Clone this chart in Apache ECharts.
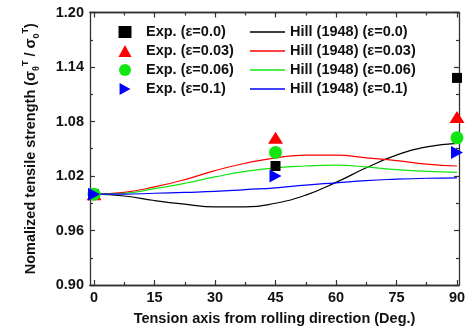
<!DOCTYPE html>
<html><head><meta charset="utf-8">
<script src="https://cdn.jsdelivr.net/npm/echarts@6/dist/echarts.min.js"></script>
<style>html,body{margin:0;padding:0;background:#fff}#c{width:472px;height:331px}</style>
</head><body><div id="c"></div>
<script>
// ---- data ----
var expAngles = [0, 45, 90];
var exp00 = [1.000, 1.031, 1.128];
var exp03 = [1.000, 1.062, 1.085];
var exp06 = [1.000, 1.046, 1.062];
var exp10 = [1.000, 1.020, 1.046];

var hillAngles = [0, 7.5, 15, 22.5, 30, 37.5, 45, 52.5, 60, 67.5, 75, 82.5, 90];
var hill00 = [1.000, 0.998, 0.993, 0.989, 0.986, 0.986, 0.990, 0.999, 1.013, 1.029, 1.043, 1.052, 1.056];
var hill03 = [1.000, 1.002, 1.008, 1.016, 1.026, 1.034, 1.040, 1.043, 1.043, 1.040, 1.037, 1.033, 1.031];
var hill06 = [1.000, 1.001, 1.006, 1.012, 1.019, 1.025, 1.029, 1.031, 1.032, 1.030, 1.027, 1.025, 1.024];
var hill10 = [1.000, 1.000, 1.001, 1.002, 1.003, 1.005, 1.007, 1.010, 1.0125, 1.015, 1.0165, 1.0175, 1.018];

var xMajorTicks = [0, 15, 30, 45, 60, 75, 90];
var xMinorTicks = [7.5, 22.5, 37.5, 52.5, 67.5, 82.5];

var expNames = ['Exp. (\u03b5=0.0)', 'Exp. (\u03b5=0.03)', 'Exp. (\u03b5=0.06)', 'Exp. (\u03b5=0.1)'];
var hillNames = ['Hill (1948) (\u03b5=0.0)', 'Hill (1948) (\u03b5=0.03)', 'Hill (1948) (\u03b5=0.06)', 'Hill (1948) (\u03b5=0.1)'];

function pairs(xs, ys) { return xs.map(function (x, i) { return [x, ys[i]]; }); }

var FONT = '"Liberation Sans", Arial, sans-serif';
var TXT = '#111';
var AX = '#333';
var GREEN = '#12e612';
var RIGHT_TRI = 'path://M0,0 L10,5.5 L0,11 Z';

var chart = echarts.init(document.getElementById('c'), null, {renderer: 'canvas'});

function xAx(pos, grid, ticks, len, labels, extra) {
  var o = {
    type: 'value', gridIndex: grid, position: pos, min: -1, max: 90.5,
    axisLine: {show: true, onZero: false, lineStyle: {color: AX, width: 1.3}},
    axisTick: {show: true, inside: true, length: len, customValues: ticks, lineStyle: {color: AX, width: 1.2}},
    axisLabel: {show: labels, customValues: ticks, margin: 5, fontFamily: FONT, fontWeight: 'bold', fontSize: 14.5, color: TXT},
    splitLine: {show: false}
  };
  if (extra) for (var k in extra) o[k] = extra[k];
  return o;
}
function yAx(pos, grid, labels, show) {
  return {
    type: 'value', gridIndex: grid, position: pos, min: 0.9, max: 1.2, interval: 0.06, show: show,
    axisLine: {show: true, onZero: false, lineStyle: {color: AX, width: 1.3}},
    axisTick: {show: true, inside: true, length: 5, lineStyle: {color: AX, width: 1.2}},
    minorTick: {show: true, splitNumber: 2, length: 3, lineStyle: {color: AX, width: 1.2}},
    axisLabel: {show: labels, margin: 6, fontFamily: FONT, fontWeight: 'bold', fontSize: 14.5, color: TXT,
      formatter: function (v) { return v.toFixed(2); }},
    splitLine: {show: false}, minorSplitLine: {show: false}
  };
}

var yLeft = yAx('left', 0, true, true);
yLeft.name = '{a|Nomalized tensile strength (\u03c3}{sb|\u03b8}{sp|T}{a| / \u03c3}{sb|0}{sp|T}{a|)}';
yLeft.nameLocation = 'middle';
yLeft.nameGap = 49;
yLeft.nameTextStyle = {
  rich: {
    a: {fontFamily: FONT, fontWeight: 'bold', fontSize: 14.5, color: TXT, lineHeight: 20},
    sb: {fontFamily: FONT, fontWeight: 'bold', fontSize: 9, color: TXT, lineHeight: 20, verticalAlign: 'bottom'},
    sp: {fontFamily: FONT, fontWeight: 'bold', fontSize: 9, color: TXT, lineHeight: 20, verticalAlign: 'top'}
  }
};

var expIcons = ['rect', 'triangle', 'circle', RIGHT_TRI];

var option = {
  animation: false,
  backgroundColor: '#fff',
  grid: [{left: 90, right: 13, top: 12.5, bottom: 46}, {left: 90, right: 13, top: 12.5, bottom: 46}],
  xAxis: [
    xAx('bottom', 0, xMajorTicks, 5, true, {
      name: 'Tension axis from rolling direction (Deg.)', nameLocation: 'middle', nameGap: 26,
      nameTextStyle: {fontFamily: FONT, fontWeight: 'bold', fontSize: 14.5, color: TXT}
    }),
    xAx('top', 0, xMajorTicks, 5, false),
    xAx('bottom', 1, xMinorTicks, 3, false),
    xAx('top', 1, xMinorTicks, 3, false)
  ],
  yAxis: [
    yLeft,
    yAx('right', 0, false, true),
    yAx('left', 1, false, false)
  ],
  legend: [
    {
      data: expNames.map(function (n, i) { return {name: n, icon: expIcons[i]}; }),
      orient: 'vertical', left: 113.5, top: 19.5, itemWidth: 13, itemHeight: 12, itemGap: 4, symbolRotate: 0,
      textStyle: {fontFamily: FONT, fontWeight: 'bold', fontSize: 14.5, lineHeight: 14, color: TXT, padding: [0, 0, 0, 9.5]}
    },
    {
      data: hillNames.map(function (n) { return {name: n, icon: 'rect'}; }),
      orient: 'vertical', left: 245, top: 19.5, itemWidth: 35, itemHeight: 1.5, itemGap: 4, itemTextGap: 4,
      textStyle: {fontFamily: FONT, fontWeight: 'bold', fontSize: 14.5, lineHeight: 14, color: TXT}
    }
  ],
  series: [
    {name: hillNames[0], type: 'line', smooth: true, symbol: 'none', data: pairs(hillAngles, hill00), lineStyle: {color: '#000', width: 1.2}, itemStyle: {color: '#000'}, z: 2},
    {name: hillNames[1], type: 'line', smooth: true, symbol: 'none', data: pairs(hillAngles, hill03), lineStyle: {color: '#ff0000', width: 1.2}, itemStyle: {color: '#ff0000'}, z: 2},
    {name: hillNames[2], type: 'line', smooth: true, symbol: 'none', data: pairs(hillAngles, hill06), lineStyle: {color: GREEN, width: 1.2}, itemStyle: {color: GREEN}, z: 2},
    {name: hillNames[3], type: 'line', smooth: true, symbol: 'none', data: pairs(hillAngles, hill10), lineStyle: {color: '#0000ff', width: 1.2}, itemStyle: {color: '#0000ff'}, z: 2},
    {name: expNames[0], type: 'scatter', symbol: 'rect', symbolSize: 10, data: pairs(expAngles, exp00), itemStyle: {color: '#000', opacity: 1}, z: 3},
    {name: expNames[1], type: 'scatter', symbol: 'triangle', symbolSize: [15, 12], data: pairs(expAngles, exp03), itemStyle: {color: '#ff0000', opacity: 1}, z: 3},
    {name: expNames[2], type: 'scatter', symbol: 'circle', symbolSize: 13, data: pairs(expAngles, exp06), itemStyle: {color: GREEN, opacity: 1}, z: 3},
    {name: expNames[3], type: 'scatter', symbol: RIGHT_TRI, symbolSize: [12, 13], data: pairs(expAngles, exp10), itemStyle: {color: '#0000ff', opacity: 1}, z: 3}
  ]
};
chart.setOption(option);
</script>
</body></html>
